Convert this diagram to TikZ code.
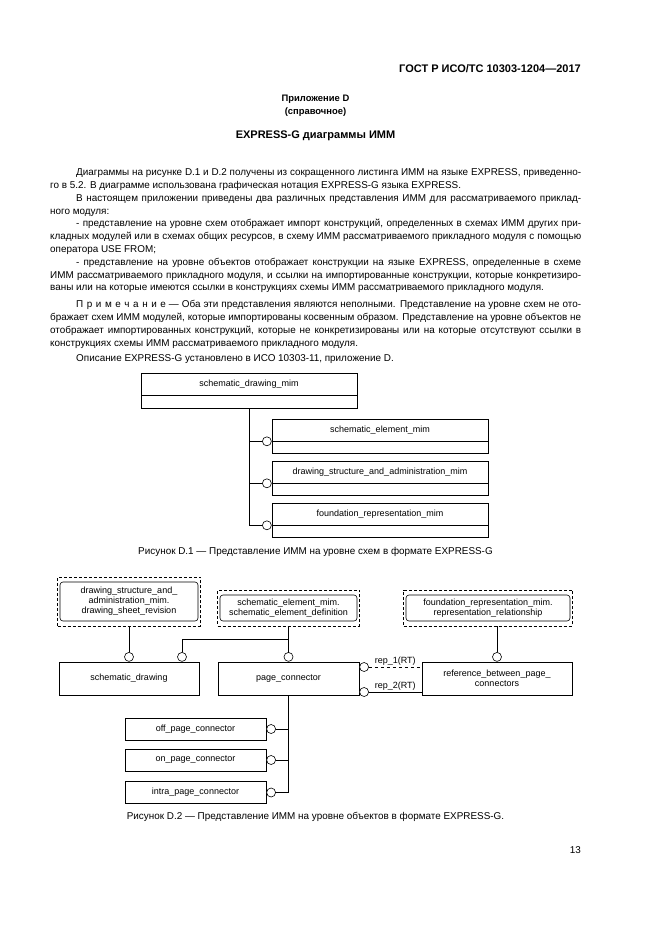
\documentclass[tikz,border=0pt]{standalone}
\usepackage{fontspec}
\setmainfont{Liberation Sans}
\usetikzlibrary{positioning,calc,fit}

\newcommand\gap{\kern.36em}
\hyphenpenalty=10000
\exhyphenpenalty=10000

\tikzset{
  body/.style={inner sep=0pt, font=\fontsize{9.9}{12.8}\selectfont},
  para/.style={body, text width=531pt, align=justify, anchor=base west},
  head/.style={inner sep=0pt, font=\fontsize{11}{13}\selectfont\bfseries},
  annex/.style={inner sep=0pt, font=\fontsize{9.4}{11}\selectfont\bfseries},
  lbl/.style={inner sep=0pt, font=\fontsize{9}{10}\selectfont},
  entity/.style={draw, line width=.6pt, lbl, align=center},
  refin/.style={draw, line width=.6pt, rounded corners=3pt, lbl, align=center},
  refout/.style={draw, line width=.6pt, dash pattern=on 3pt off 2pt, inner xsep=2pt, inner ysep=4.5pt},
  ring/.style={draw, fill=white, circle, inner sep=0pt, minimum size=9pt, line width=.6pt},
  link/.style={line width=.6pt},
}

\begin{document}
\begin{tikzpicture}[x=1pt,y=-1pt]
\useasboundingbox[fill=white] (0,0) rectangle (661,935);

% page head
\node[head, anchor=base east] (gost) at (581,72) {ГОСТ Р ИСО/ТС 10303-1204—2017};
\node[annex] (annex) at (315.5,99) {Приложение D};
\node[annex] (annexkind) at (315.5,112) {(справочное)};
\node[head] (title) at (315.5,136) {EXPRESS-G диаграммы ИММ};

% text
\node[para] (p1) at (50,175.6) {\hspace*{26pt}Диаграммы на рисунке D.1 и D.2 получены из сокращенного листинга ИММ на языке EXPRESS, приведенно-\linebreak го в 5.2. В диаграмме использована графическая нотация EXPRESS-G языка EXPRESS.};
\node[para] (p2) at (50,201.2) {\hspace*{26pt}В настоящем приложении приведены два различных представления ИММ для рассматриваемого приклад-\linebreak ного модуля:};
\node[para] (p3) at (50,226.8) {\hspace*{26pt}- представление на уровне схем отображает импорт конструкций, определенных в схемах ИММ других при-\linebreak кладных модулей или в схемах общих ресурсов, в схему ИММ рассматриваемого прикладного модуля с помощью\linebreak оператора USE FROM;};
\node[para] (p4) at (50,265.2) {\hspace*{26pt}- представление на уровне объектов отображает конструкции на языке EXPRESS, определенные в схеме\linebreak ИММ рассматриваемого прикладного модуля, и ссылки на импортированные конструкции, которые конкретизиро-\linebreak ваны или на которые имеются ссылки в конструкциях схемы ИММ рассматриваемого прикладного модуля.};
\node[para] (p5) at (50,307.6) {\hspace*{26pt}П\gap р\gap и\gap м\gap е\gap ч\gap а\gap н\gap и\gap е — Оба эти представления являются неполными. Представление на уровне схем не ото-\linebreak бражает схем ИММ модулей, которые импортированы косвенным образом. Представление на уровне объектов не\linebreak отображает импортированных конструкций, которые не конкретизированы или на которые отсутствуют ссылки в\linebreak конструкциях схемы ИММ рассматриваемого прикладного модуля.};
\node[para] (p6) at (50,361.6) {\hspace*{26pt}Описание EXPRESS-G установлено в ИСО 10303-11, приложение D.};

% figure D.1
\node[entity, minimum width=216pt, minimum height=22pt] (sdm) at (249,384) {schematic\_drawing\_mim};
\node[entity, minimum width=216pt, minimum height=13pt, anchor=north] (sdm-low) at (sdm.south) {};

\node[entity, minimum width=216pt, minimum height=22pt] (sem) at (380,430) {schematic\_element\_mim};
\node[entity, minimum width=216pt, minimum height=12pt, anchor=north] (sem-low) at (sem.south) {};
\node[entity, minimum width=216pt, minimum height=22pt] (dsam) at (380,472) {drawing\_structure\_and\_administration\_mim};
\node[entity, minimum width=216pt, minimum height=12pt, anchor=north] (dsam-low) at (dsam.south) {};
\node[entity, minimum width=216pt, minimum height=22pt] (frm) at (380,514) {foundation\_representation\_mim};
\node[entity, minimum width=216pt, minimum height=12pt, anchor=north] (frm-low) at (frm.south) {};

\node[ring, anchor=east] (sem-r) at (sem.south west) {};
\node[ring, anchor=east] (dsam-r) at (dsam.south west) {};
\node[ring, anchor=east] (frm-r) at (frm.south west) {};
\draw[link] (sdm-low.south) -- (sdm-low.south |- frm-r.west) -- (frm-r.west);
\draw[link] (sem-r.west) -- (sem-r.west -| sdm-low.south);
\draw[link] (dsam-r.west) -- (dsam-r.west -| sdm-low.south);

\node[body] (cap1) at (315.5,552) {Рисунок D.1 — Представление ИММ на уровне схем в формате EXPRESS-G};

% figure D.2
\node[refin, minimum width=138pt, minimum height=39pt] (dsr) at (129,601.5) {drawing\_structure\_and\_\\administration\_mim.\\drawing\_sheet\_revision};
\node[refout, fit=(dsr)] (dsr-out) {};
\node[refin, minimum width=137pt, minimum height=26pt] (sed) at (288.5,608) {schematic\_element\_mim.\\schematic\_element\_definition};
\node[refout, fit=(sed)] (sed-out) {};
\node[refin, minimum width=164pt, minimum height=26pt] (rrel) at (488,608) {foundation\_representation\_mim.\\representation\_relationship};
\node[refout, fit=(rrel)] (rrel-out) {};

\node[entity, minimum width=140pt, minimum height=33pt] (sd) at (129,678.5) {schematic\_drawing};
\node[entity, minimum width=141pt, minimum height=33pt] (pc) at (288.5,678.5) {page\_connector};
\node[entity, minimum width=150pt, minimum height=33pt] (rbpc) at (497,678.5) {reference\_between\_page\_\\connectors};

\node[ring, anchor=south] (sd-r1) at (sd.north) {};
\node[ring, anchor=south] (sd-r2) at ($(sd.north)+(53,0)$) {};
\node[ring, anchor=south] (pc-r) at (pc.north) {};
\node[ring, anchor=south] (rbpc-r) at (rbpc.north) {};
\coordinate (jn) at ($(sed-out.south)!0.5!(pc-r.north)$);

\draw[link] (dsr-out.south) -- (sd-r1.north);
\draw[link] (sed-out.south) -- (pc-r.north);
\draw[link] (sd-r2.north) |- (jn);
\draw[link] (rbpc-r.north) -- (rbpc-r.north |- rrel-out.south);

\node[ring, anchor=west] (rep1-r) at ($(pc.east)+(0,-11.5)$) {};
\node[ring, anchor=west] (rep2-r) at ($(pc.east)+(0,13.5)$) {};
\draw[link, dash pattern=on 3pt off 3pt] (rep1-r.east) -- (rep1-r.east -| rbpc.west) node[lbl, midway, above=1.5pt] {rep\_1(RT)};
\draw[link] (rep2-r.east) -- (rep2-r.east -| rbpc.west) node[lbl, midway, above=1.5pt] {rep\_2(RT)};

\node[entity, minimum width=141pt, minimum height=22pt] (opc) at (195.5,729) {off\_page\_connector};
\node[entity, minimum width=141pt, minimum height=22pt] (onpc) at (195.5,760) {on\_page\_connector};
\node[entity, minimum width=141pt, minimum height=22pt] (ipc) at (195.5,792.5) {intra\_page\_connector};
\node[ring, anchor=west] (opc-r) at (opc.east) {};
\node[ring, anchor=west] (onpc-r) at (onpc.east) {};
\node[ring, anchor=west] (ipc-r) at (ipc.east) {};
\draw[link] (pc.south) -- (pc.south |- ipc-r.east) -- (ipc-r.east);
\draw[link] (opc-r.east) -- (opc-r.east -| pc.south);
\draw[link] (onpc-r.east) -- (onpc-r.east -| pc.south);

\node[body] (cap2) at (315.5,817) {Рисунок D.2 — Представление ИММ на уровне объектов в формате EXPRESS-G.};

\node[body, anchor=base east] (pageno) at (581,853) {13};
\end{tikzpicture}
\end{document}
